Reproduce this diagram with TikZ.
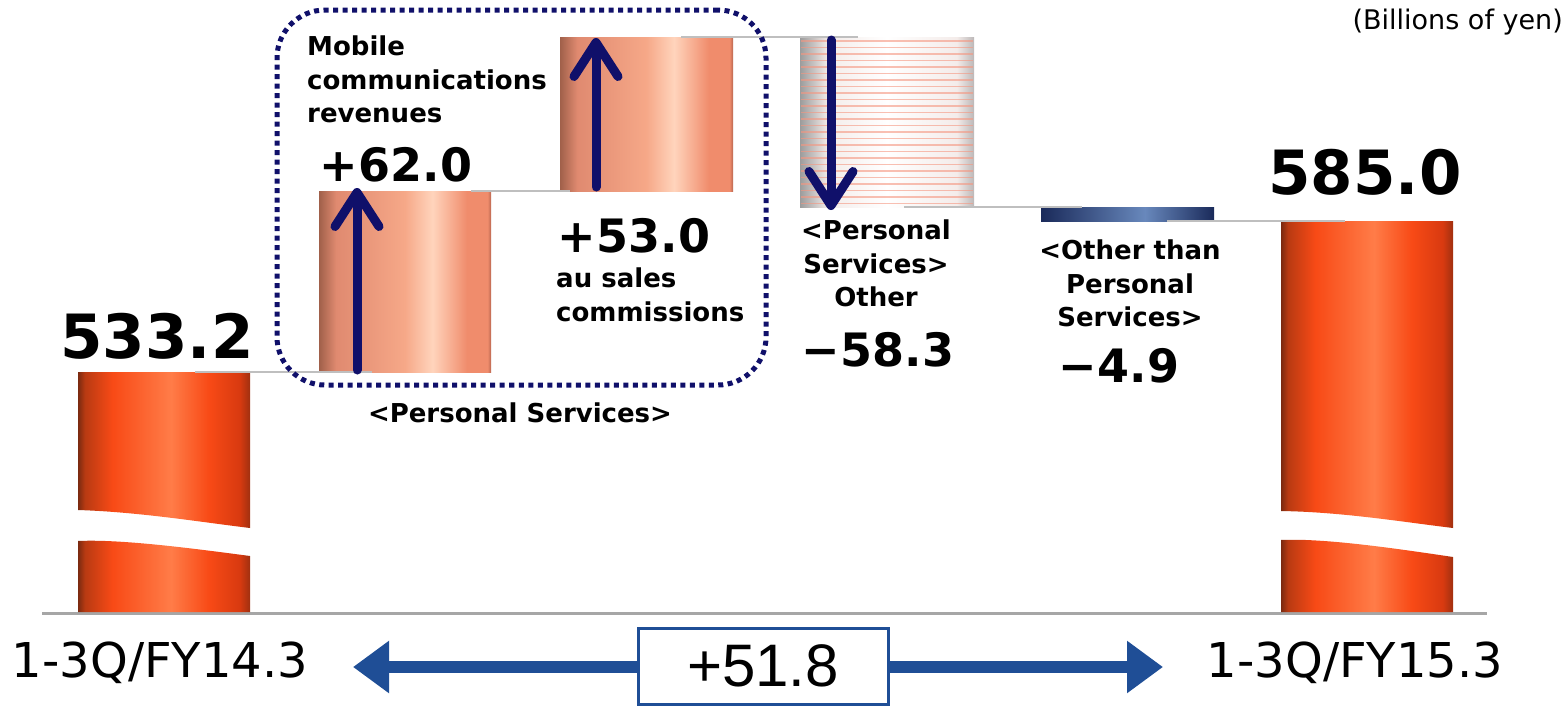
\documentclass[tikz,border=0pt]{standalone}
\usepackage{fontspec}
\setmainfont{DejaVu Sans}
\newfontfamily\boxfont{Liberation Sans}
\usetikzlibrary{arrows.meta}
\definecolor{navy}{HTML}{10106A}
\definecolor{linegray}{HTML}{BFBFBF}
\definecolor{axisgray}{HTML}{A6A6A6}
\definecolor{dblue}{HTML}{1F4E96}
\definecolor{stripe}{HTML}{F59680}
% orange bars
\definecolor{ob0}{HTML}{7A2A10}
\definecolor{ob1}{HTML}{B83A12}
\definecolor{ob2}{HTML}{F84A16}
\definecolor{ob3}{HTML}{FF7C48}
\definecolor{ob4}{HTML}{D83A10}
\definecolor{ob5}{HTML}{A03010}
\pgfdeclarehorizontalshading{orangebar}{100bp}{color(0bp)=(ob0); color(25bp)=(ob0); color(27bp)=(ob1); color(35bp)=(ob2); color(52bp)=(ob3); color(63bp)=(ob2); color(72bp)=(ob4); color(75bp)=(ob5); color(100bp)=(ob5)}
% salmon bars
\definecolor{sb0}{HTML}{A0604A}
\definecolor{sb1}{HTML}{E08A70}
\definecolor{sb2}{HTML}{F6A888}
\definecolor{sb3}{HTML}{FFD4BC}
\definecolor{sb4}{HTML}{F08C6C}
\definecolor{sb5}{HTML}{B86650}
\pgfdeclarehorizontalshading{salmonbar}{100bp}{color(0bp)=(sb0); color(25bp)=(sb0); color(30bp)=(sb1); color(50bp)=(sb2); color(58bp)=(sb3); color(68bp)=(sb4); color(74bp)=(sb4); color(75bp)=(sb5); color(100bp)=(sb5)}
% pale bar
\definecolor{pb0}{HTML}{9C9C9C}
\definecolor{pb1}{HTML}{F4ECEA}
\definecolor{pb2}{HTML}{FFFFFF}
\definecolor{pb3}{HTML}{BCB8B8}
\pgfdeclarehorizontalshading{palebar}{100bp}{color(0bp)=(pb0); color(25bp)=(pb0); color(33bp)=(pb1); color(50bp)=(pb2); color(70bp)=(pb1); color(75bp)=(pb3); color(100bp)=(pb3)}
% blue bar
\definecolor{bb0}{HTML}{1A2A5A}
\definecolor{bb1}{HTML}{6888BC}
\pgfdeclarehorizontalshading{bluebar}{100bp}{color(0bp)=(bb0); color(25bp)=(bb0); color(55bp)=(bb1); color(75bp)=(bb0); color(100bp)=(bb0)}

\tikzset{
  barbox/.style={inner sep=0pt, outer sep=0pt, anchor=north west},
  conn/.style={draw=linegray, line width=2pt},
  uparrow/.style={draw=navy, line width=9pt, line cap=round, -{Straight Barb[length=34pt,width=44pt,round]}},
  lbl/.style={font=\bfseries\fontsize{26}{33.5}\selectfont, inner sep=0pt, align=center},
  val/.style={font=\bfseries\fontsize{46}{50}\selectfont, inner sep=0pt},
  big/.style={font=\bfseries\fontsize{61}{66}\selectfont, inner sep=0pt},
  period/.style={font=\fontsize{48}{52}\selectfont, inner sep=0pt},
  bigarrow/.style={draw=dblue, line width=12pt, -{Triangle[length=36pt,width=50pt]}},
}

\begin{document}
\begin{tikzpicture}[x=1pt,y=-1pt]
\useasboundingbox (0,0) rectangle (1568,707);

% axis
\coordinate (axl) at (42,613);
\coordinate (axr) at (1487,613);
\draw[draw=axisgray, line width=3pt] (axl) -- (axr);

% bar 1 (broken)
\shade[shading=orangebar] (78,372) -- (250,372) -- (250,528) .. controls (200,522) and (140,512) .. (78,510) -- cycle;
\shade[shading=orangebar] (78,541) .. controls (120,539) and (190,548) .. (250,556) -- (250,612) -- (78,612) -- cycle;
% bar 5 (broken)
\shade[shading=orangebar] (1281,221) -- (1453,221) -- (1453,528) .. controls (1403,522) and (1343,512) .. (1281,511) -- cycle;
\shade[shading=orangebar] (1281,540) .. controls (1323,538) and (1393,548) .. (1453,557) -- (1453,612) -- (1281,612) -- cycle;

% intermediate bars
\node[barbox, shading=salmonbar, minimum width=172pt, minimum height=181pt] (b2) at (319,191) {};
\node[barbox, shading=salmonbar, minimum width=173pt, minimum height=154pt] (b3) at (560,37) {};
\node[barbox, shading=palebar, minimum width=174pt, minimum height=170pt] (b4) at (800,37) {};
\foreach \yy in {41,47.5,...,204} \draw[stripe, line width=1.6pt, opacity=0.6] (801,\yy) -- (973,\yy);
\node[barbox, shading=bluebar, minimum width=173pt, minimum height=14pt] (b5) at (1041,207) {};

% connectors
\coordinate (c1a) at (195,372); \coordinate (c1b) at (372,372);
\coordinate (c2a) at (471,191); \coordinate (c2b) at (570,191);
\coordinate (c3a) at (681,37);  \coordinate (c3b) at (858,37);
\coordinate (c4a) at (904,207); \coordinate (c4b) at (1082,207);
\coordinate (c5a) at (1167,221); \coordinate (c5b) at (1345,221);
\draw[conn] (c1a) -- (c1b);
\draw[conn] (c2a) -- (c2b);
\draw[conn] (c3a) -- (c3b);
\draw[conn] (c4a) -- (c4b);
\draw[conn] (c5a) -- (c5b);

% dotted group box
\node[draw=navy, line width=5pt, dash pattern=on 5pt off 4.5pt, rounded corners=48pt, minimum width=489pt, minimum height=375pt, inner sep=0pt] (grp) at (521.5,197.5) {};

% navy arrows
\coordinate (a1s) at (357,370); \coordinate (a1e) at (357,188);
\coordinate (a2s) at (596,187); \coordinate (a2e) at (596,38);
\coordinate (a3s) at (831,40);  \coordinate (a3e) at (831,210);
\draw[uparrow] (a1s) -- (a1e);
\draw[uparrow] (a2s) -- (a2e);
\draw[uparrow] (a3s) -- (a3e);

% texts
\node[anchor=east, font=\fontsize{27}{31}\selectfont, inner sep=0pt] (unit) at (1563,22) {(Billions of yen)};
\node[lbl, anchor=north west, align=left] (mob) at (307,36) {Mobile\\communications\\revenues};
\node[val] (v62) at (396,165) {+62.0};
\node[val] (v53) at (634,236) {+53.0};
\node[lbl, anchor=north west, align=left] (au) at (556,268) {au sales\\commissions};
\node[lbl] (ps) at (520,413) {<Personal Services>};
\node[lbl, anchor=north] (pso) at (876,220) {<Personal\\Services>\\Other};
\node[val] (v58) at (878,350) {−58.3};
\node[lbl, anchor=north] (ops) at (1130,240) {<Other than\\Personal\\Services>};
\node[val] (v49) at (1119,366) {−4.9};
\node[big] (v533) at (157,336) {533.2};
\node[big] (v585) at (1365,172) {585.0};
\node[period] (p14) at (160,663) {1-3Q/FY14.3};
\node[period] (p15) at (1355,663) {1-3Q/FY15.3};

% total box and arrows
\node[draw=dblue, line width=3pt, fill=white, minimum width=250pt, minimum height=76pt, inner sep=0pt, font=\boxfont\fontsize{60}{64}\selectfont] (tot) at (763,666) {+51.8};
\coordinate (lt) at (353,667);
\coordinate (rt) at (1163,667);
\draw[bigarrow] (tot.west |- lt) -- (lt);
\draw[bigarrow] (tot.east |- rt) -- (rt);
\end{tikzpicture}
\end{document}
